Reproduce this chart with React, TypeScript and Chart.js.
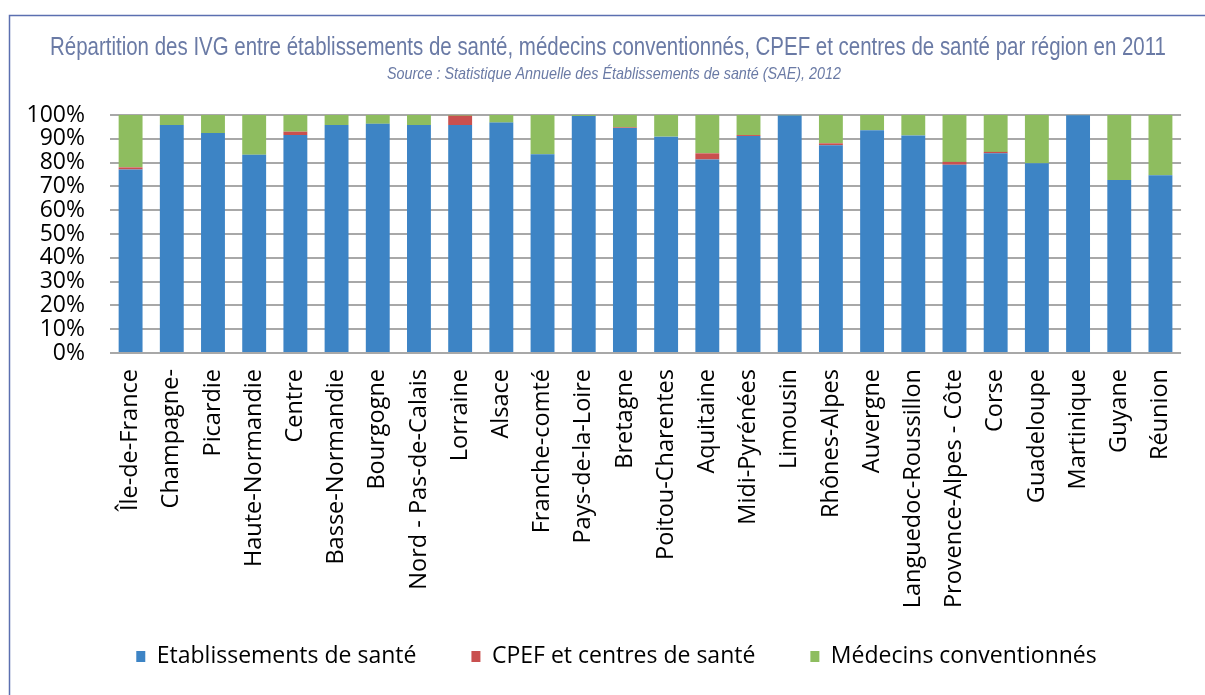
import { useEffect, useRef } from 'react';
import { Chart, registerables } from 'chart.js';

Chart.register(...registerables);

const TITLE =
  'Répartition des IVG entre établissements de santé, médecins conventionnés, CPEF et centres de santé par région en 2011';
const SOURCE = 'Source : Statistique Annuelle des Établissements de santé (SAE), 2012';

const regions = [
  'Île-de-France',
  'Champagne-',
  'Picardie',
  'Haute-Normandie',
  'Centre',
  'Basse-Normandie',
  'Bourgogne',
  'Nord - Pas-de-Calais',
  'Lorraine',
  'Alsace',
  'Franche-comté',
  'Pays-de-la-Loire',
  'Bretagne',
  'Poitou-Charentes',
  'Aquitaine',
  'Midi-Pyrénées',
  'Limousin',
  'Rhônes-Alpes',
  'Auvergne',
  'Languedoc-Roussillon',
  'Provence-Alpes - Côte',
  'Corse',
  'Guadeloupe',
  'Martinique',
  'Guyane',
  'Réunion',
];

const etablissements = [
  77.1, 95.8, 92.4, 83.3, 91.6, 95.8, 96.3, 95.8, 95.8, 96.8, 83.5, 99.6, 94.5,
  90.9, 81.3, 91.2, 99.8, 87.3, 93.6, 91.4, 79.1, 83.9, 79.7, 99.9, 72.7, 74.7,
];
const cpef = [
  0.9, 0, 0, 0, 1.4, 0, 0, 0, 3.9, 0, 0, 0, 0.3, 0, 2.6, 0.4, 0, 0.8, 0, 0, 1.2,
  0.6, 0, 0, 0, 0,
];
const medecins = [
  22.0, 4.2, 7.6, 16.7, 7.0, 4.2, 3.7, 4.2, 0.3, 3.2, 16.5, 0.4, 5.2, 9.1, 16.1,
  8.4, 0.2, 11.9, 6.4, 8.6, 19.7, 15.5, 20.3, 0.1, 27.3, 25.3,
];

const seriesNames = ['Etablissements de santé', 'CPEF et centres de santé', 'Médecins conventionnés'];
const seriesColors = ['#3d84c5', '#c9504f', '#8ebd5f'];

const yMin = 0;
const yMax = 100;
const yStep = 10;

const BODY_FONT = '"Open Sans", "Noto Sans", sans-serif';
const TITLE_COLOR = '#6a7aa5';

const decorPlugin = {
  id: 'decor',
  afterLayout(chart: any) {
    const lg = chart.legend;
    if (lg) {
      lg.left += 13;
      lg.right += 13;
    }
    // let the long rotated category labels extend past the axis box
    const xs = chart.scales.x;
    if (xs) xs.bottom += 60;
  },
  beforeDraw(chart: any) {
    const { ctx, width, height } = chart;
    ctx.save();
    ctx.fillStyle = '#ffffff';
    ctx.fillRect(0, 0, width, height);
    ctx.restore();
  },
  afterDraw(chart: any) {
    const { ctx, width, height } = chart;
    ctx.save();
    // frame
    ctx.strokeStyle = '#5b6fb0';
    ctx.lineWidth = 1.5;
    ctx.beginPath();
    ctx.moveTo(9.5, height);
    ctx.lineTo(9.5, 15.5);
    ctx.lineTo(width, 15.5);
    ctx.stroke();

    // title (condensed)
    ctx.fillStyle = TITLE_COLOR;
    ctx.textAlign = 'center';
    ctx.textBaseline = 'alphabetic';
    ctx.font = '26px "Liberation Sans", Arial, sans-serif';
    const tw = ctx.measureText(TITLE).width;
    ctx.save();
    ctx.translate(608, 55);
    ctx.scale(1116 / tw, 1);
    ctx.fillText(TITLE, 0, 0);
    ctx.restore();

    // source (condensed italic)
    ctx.font = 'italic 17px "Liberation Sans", Arial, sans-serif';
    const sw = ctx.measureText(SOURCE).width;
    ctx.save();
    ctx.translate(614, 79);
    ctx.scale(454 / sw, 1);
    ctx.fillText(SOURCE, 0, 0);
    ctx.restore();
    ctx.restore();
  },
};

export default function App() {
  const canvasRef = useRef<HTMLCanvasElement | null>(null);

  useEffect(() => {
    const canvas = canvasRef.current;
    if (!canvas) return;
    const data = [etablissements, cpef, medecins];
    const chart = new Chart(canvas, {
      type: 'bar',
      data: {
        labels: regions,
        datasets: seriesNames.map((name, i) => ({
          label: name,
          data: data[i],
          backgroundColor: seriesColors[i],
          borderWidth: 0,
          barPercentage: 0.58,
          categoryPercentage: 1,
        })),
      },
      options: {
        responsive: false,
        animation: false,
        devicePixelRatio: 1,
        layout: { padding: { left: 20, right: 18, top: 115, bottom: 17 } },
        plugins: {
          title: { display: false },
          tooltip: { enabled: false },
          legend: {
            display: true,
            position: 'bottom',
            labels: {
              boxWidth: 9,
              boxHeight: 11,
              padding: 55,
              color: '#000000',
              font: { family: BODY_FONT, size: 23 },
            },
          },
        },
        scales: {
          x: {
            stacked: true,
            grid: { display: false, drawTicks: false },
            border: { display: false },
            ticks: {
              minRotation: 90,
              maxRotation: 90,
              autoSkip: false,
              padding: 16,
              color: '#000000',
              font: { family: BODY_FONT, size: 23.5 },
            },
            afterFit(scale: any) {
              scale.height = 237;
            },
          },
          y: {
            stacked: true,
            min: yMin,
            max: yMax,
            grid: { color: '#a8a8a8', lineWidth: 2, drawTicks: false },
            border: { display: false },
            ticks: {
              stepSize: yStep,
              autoSkip: false,
              padding: 25,
              color: '#000000',
              font: { family: BODY_FONT, size: 23 },
              callback: (v: any) => `${v}%`,
            },
            afterFit(scale: any) {
              scale.width = 90;
            },
          },
        },
      },
      plugins: [decorPlugin],
    });
    return () => chart.destroy();
  }, []);

  return (
    <div style={{ position: 'fixed', left: 0, top: 0, width: 1205, height: 695, background: '#fff' }}>
      <canvas ref={canvasRef} width={1205} height={695} style={{ display: 'block' }} />
    </div>
  );
}
